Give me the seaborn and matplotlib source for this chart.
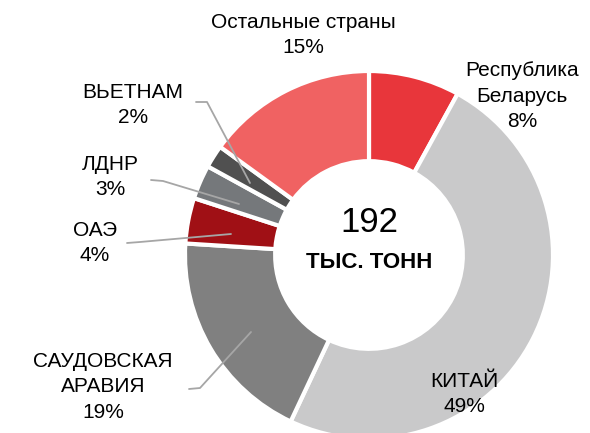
import matplotlib
matplotlib.use("Agg")
import matplotlib.pyplot as plt
import seaborn as sns

countries = ["Республика\nБеларусь", "КИТАЙ", "САУДОВСКАЯ\nАРАВИЯ", "ОАЭ", "ЛДНР", "ВЬЕТНАМ", "Остальные страны"]
shares = [8, 49, 19, 4, 3, 2, 15]
colors = ["#E8363B", "#C9C9CA", "#808080", "#A01015", "#75787B", "#505050", "#F06262"]
total_text = "192"
unit_text = "ТЫС. ТОНН"

sns.set_theme(style="white")
plt.rcParams['font.family'] = ['Liberation Sans', 'DejaVu Sans']

W, H = 590, 433
fig = plt.figure(figsize=(W / 100, H / 100), dpi=100)
ax = fig.add_axes([0, 0, 1, 1])

cx, cy, r = 369, H - 255, 184
ax.pie(shares, colors=colors, startangle=90, counterclock=False,
       center=(cx, cy), radius=r, frame=True,
       wedgeprops=dict(width=r * 0.49, edgecolor='white', linewidth=3))
ax.set_xlim(0, W)
ax.set_ylim(0, H)
ax.set_aspect('equal')
ax.axis('off')

# labels (pixel positions from the top)
label_pos = [(522, 96), (464, 394), (103, 387), (95, 243), (110, 177), (133, 105), (303, 35)]
for name, s, (x, y) in zip(countries, shares, label_pos):
    ax.text(x, H - y, f"{name}\n{s}%", ha='center', va='center', fontsize=15,
            linespacing=1.45, color='black')

# leader lines
leaders = [
    [(196, 102), (207, 102), (250, 183)],
    [(151, 180), (163, 181), (239, 204)],
    [(127, 243), (140, 242), (231, 234)],
    [(189, 389), (200, 388), (251, 332)],
]
for pts in leaders:
    ax.plot([p[0] for p in pts], [H - p[1] for p in pts], color='#A6A6A6', lw=1.3)

ax.text(cx, H - 222, total_text, ha='center', va='center', fontsize=25, color='black')
ax.text(cx, H - 263, unit_text, ha='center', va='center', fontsize=16,
        fontweight='bold', color='black')

fig.savefig("out.png", dpi=100)
